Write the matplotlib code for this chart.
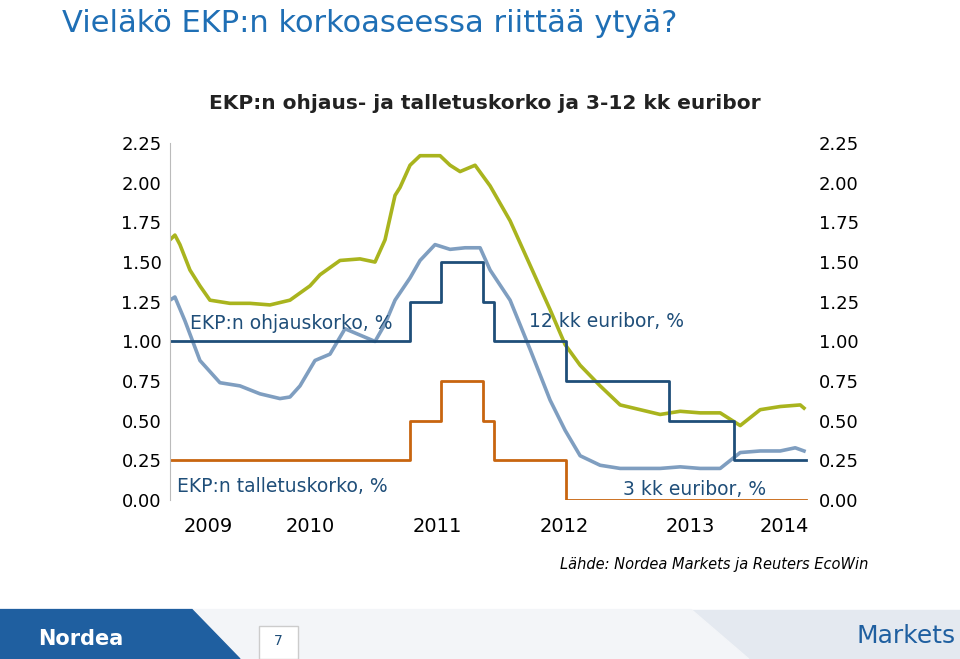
import matplotlib
matplotlib.use("Agg")
import matplotlib.pyplot as plt
from matplotlib.patches import Rectangle, Polygon

# decimal years
t12 = [2009.36, 2009.40, 2009.44, 2009.52, 2009.60, 2009.68, 2009.84, 2010.00, 2010.16, 2010.32,
       2010.48, 2010.56, 2010.72, 2010.88, 2011.00, 2011.08, 2011.16, 2011.20, 2011.28, 2011.36,
       2011.52, 2011.60, 2011.68, 2011.80, 2011.92, 2012.08, 2012.24, 2012.40, 2012.52, 2012.64,
       2012.80, 2012.96, 2013.12, 2013.28, 2013.44, 2013.60, 2013.76, 2013.92, 2014.08, 2014.24,
       2014.40, 2014.43]
euribor12 = [1.64, 1.67, 1.61, 1.45, 1.35, 1.26, 1.24, 1.24, 1.23, 1.26,
             1.35, 1.42, 1.51, 1.52, 1.50, 1.64, 1.92, 1.97, 2.11, 2.17,
             2.17, 2.11, 2.07, 2.11, 1.98, 1.76, 1.48, 1.20, 0.98, 0.85,
             0.72, 0.60, 0.57, 0.54, 0.56, 0.55, 0.55, 0.47, 0.57, 0.59,
             0.60, 0.58]

t3 = [2009.36, 2009.40, 2009.48, 2009.60, 2009.76, 2009.92, 2010.08, 2010.24, 2010.32, 2010.40,
      2010.52, 2010.64, 2010.76, 2010.88, 2011.00, 2011.08, 2011.16, 2011.28, 2011.36, 2011.48,
      2011.60, 2011.72, 2011.84, 2011.92, 2012.08, 2012.24, 2012.40, 2012.52, 2012.64, 2012.80,
      2012.96, 2013.12, 2013.28, 2013.44, 2013.60, 2013.76, 2013.92, 2014.08, 2014.24, 2014.36,
      2014.43]
euribor3 = [1.26, 1.28, 1.13, 0.88, 0.74, 0.72, 0.67, 0.64, 0.65, 0.72,
            0.88, 0.92, 1.08, 1.04, 1.00, 1.11, 1.26, 1.40, 1.51, 1.61,
            1.58, 1.59, 1.59, 1.45, 1.26, 0.95, 0.63, 0.44, 0.28, 0.22,
            0.20, 0.20, 0.20, 0.21, 0.20, 0.20, 0.30, 0.31, 0.31, 0.33,
            0.31]

rate_dates = [2009.36, 2011.28, 2011.53, 2011.86, 2011.95, 2012.53, 2013.35, 2013.87, 2014.45]
refi = [1.00, 1.25, 1.50, 1.25, 1.00, 0.75, 0.50, 0.25, 0.25]
deposit = [0.25, 0.50, 0.75, 0.50, 0.25, 0.00, 0.00, 0.00, 0.00]

yticks = [0.0, 0.25, 0.5, 0.75, 1.0, 1.25, 1.5, 1.75, 2.0, 2.25]
year_labels = ["2009", "2010", "2011", "2012", "2013", "2014"]
year_pos = [2009.67, 2010.48, 2011.50, 2012.51, 2013.52, 2014.27]

fig = plt.figure(figsize=(9.6, 6.59), dpi=100)
ax = fig.add_axes([0.177, 0.241, 0.667, 0.542])

ax.plot(t12, euribor12, color="#A9B41E", lw=2.6)
ax.plot(t3, euribor3, color="#7F9EC0", lw=2.6)
ax.step(rate_dates, refi, where="post", color="#1F4E79", lw=2)
ax.step(rate_dates, deposit, where="post", color="#C8650F", lw=2)

ax.set_xlim(2009.36, 2014.48)
ax.set_ylim(0, 2.25)
for s in ["top", "right", "bottom"]:
    ax.spines[s].set_visible(False)
ax.spines["left"].set_color("#BBBBBB")
ax.set_yticks(yticks)
ax.set_yticklabels([f"{v:.2f}" for v in yticks], fontsize=13)
ax.tick_params(axis="y", length=0, pad=6, labelright=True)
ax.set_xticks(year_pos)
ax.set_xticklabels(year_labels, fontsize=14)
ax.tick_params(axis="x", length=0, pad=12)

ax.text(2009.52, 1.08, "EKP:n ohjauskorko, %", fontsize=13.5, color="#1F4E79")
ax.text(2012.23, 1.09, "12 kk euribor, %", fontsize=13.5, color="#1F4E79")
ax.text(2009.42, 0.05, "EKP:n talletuskorko, %", fontsize=13.5, color="#1F4E79")
ax.text(2012.98, 0.03, "3 kk euribor, %", fontsize=13.5, color="#1F4E79")

fig.text(0.218, 0.835, "EKP:n ohjaus- ja talletuskorko ja 3-12 kk euribor",
         fontsize=14.5, fontweight="bold", color="#222222")
fig.text(0.065, 0.965, "Vieläkö EKP:n korkoaseessa riittää ytyä?", fontsize=22,
         color="#1F6FB5", va="center")
fig.text(0.905, 0.137, "Lähde: Nordea Markets ja Reuters EcoWin", fontsize=10.5,
         style="italic", ha="right")

# footer band
fig.patches.append(Rectangle((0, 0), 1, 0.075, transform=fig.transFigure, color="#E4E9F0", zorder=0))
fig.patches.append(Polygon([[0, 0], [0, 0.075], [0.72, 0.075], [0.78, 0]], closed=True,
                           transform=fig.transFigure, color="#F3F5F8", zorder=0))
fig.patches.append(Polygon([[0, 0], [0, 0.075], [0.20, 0.075], [0.25, 0]], closed=True,
                           transform=fig.transFigure, color="#1F5FA0", zorder=0))
fig.patches.append(Rectangle((0.27, 0.0), 0.04, 0.05, transform=fig.transFigure,
                             facecolor="white", edgecolor="#CCCCCC", zorder=1))
fig.text(0.29, 0.028, "7", fontsize=10, color="#1F4E79", ha="center", va="center")
fig.text(0.04, 0.03, "Nordea", fontsize=15, fontweight="bold", color="white", va="center")
fig.text(0.995, 0.035, "Markets", fontsize=18, color="#1F5FA0", ha="right", va="center")

fig.savefig("out.png", dpi=100)
